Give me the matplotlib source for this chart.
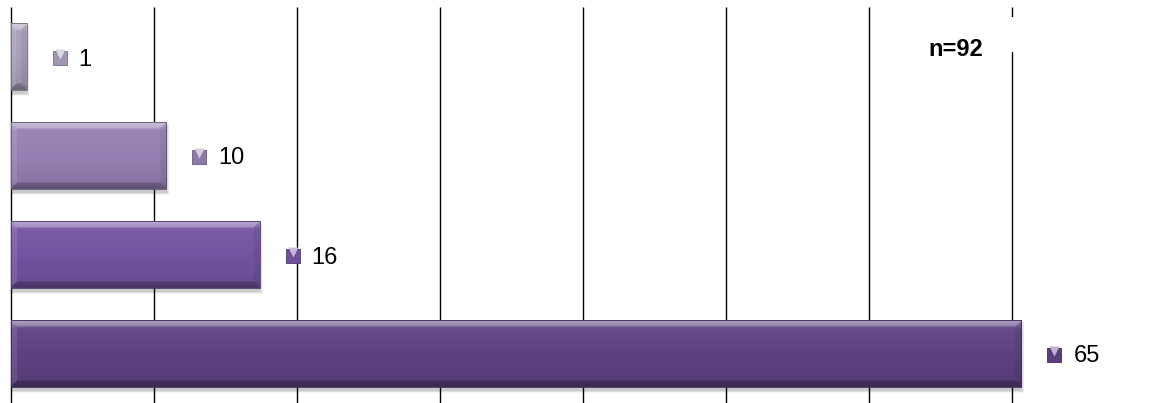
import numpy as np
import matplotlib
matplotlib.use("Agg")
import matplotlib.pyplot as plt
from matplotlib.patches import Rectangle, Polygon
from matplotlib.colors import to_rgb
from matplotlib import transforms

# Survey responses per answer (top to bottom), total respondents
counts = [1, 10, 16, 65]
n_total = 92
bar_colors = ["#A99FBA", "#9580B3", "#7453A0", "#5D4282"]
x_ticks = [0, 10, 20, 30, 40, 50, 60, 70]

pct = [c / n_total * 100 for c in counts]

W, H, DPI = 1149, 403, 100
fig = plt.figure(figsize=(W / DPI, H / DPI), dpi=DPI)
ax = fig.add_axes([11 / W, 0, 1001 / W, 396 / H])
ax.set_xlim(x_ticks[0], x_ticks[-1])
ax.set_ylim(len(counts) - 0.5, -0.5)
ax.set_xticks([])
ax.set_yticks([])
for s in ax.spines.values():
    s.set_visible(False)

# vertical gridlines, including the ones on the axis edges
ax.vlines(x_ticks, len(counts) - 0.5, -0.5, colors="black", lw=1.0,
          zorder=0, clip_on=False)

# size of one screen pixel in data units
fig.canvas.draw()
bb = ax.get_window_extent()
px_x = (x_ticks[-1] - x_ticks[0]) / bb.width
px_y = len(counts) / bb.height


def shade(rgb, f):
    rgb = np.array(rgb)
    if f >= 0:
        return tuple(rgb + (1 - rgb) * f)
    return tuple(rgb * (1 + f))


bar_h = 0.667
for i, (v, col) in enumerate(zip(pct, bar_colors)):
    rgb = to_rgb(col)
    x0, x1 = 0.0, v
    yt, yb = i - bar_h / 2, i + bar_h / 2

    # soft drop shadow
    for k in range(5):
        ax.add_patch(Rectangle((x0, yt + (3 - k * 0.4) * px_y),
                               (x1 - x0) + (0.5 + k * 0.6) * px_x, bar_h + (1 + k) * px_y,
                               facecolor="black", edgecolor="none", alpha=0.045,
                               zorder=2, clip_on=False))

    # body with vertical gradient
    body = Rectangle((x0, yt), x1 - x0, bar_h, facecolor=rgb, edgecolor="none",
                     zorder=3, clip_on=False)
    ax.add_patch(body)
    t = np.linspace(0, 1, 64)
    f = np.interp(t, [0, 0.05, 0.12, 0.5, 0.9, 1.0], [0.35, 0.25, 0.05, 0.0, -0.08, -0.25])
    grad = np.array([shade(rgb, fv) for fv in f])[:, None, :]
    im = ax.imshow(grad, extent=(x0, x1, yb, yt), aspect="auto", zorder=3.1,
                   interpolation="bilinear", clip_on=False)
    im.set_clip_path(body)
    ax.set_xlim(x_ticks[0], x_ticks[-1])
    ax.set_ylim(len(counts) - 0.5, -0.5)

    # bevelled edges
    bx, by = 6 * px_x, 6 * px_y
    bx = min(bx, (x1 - x0) / 3)
    bevels = [
        ([(x0, yt), (x1, yt), (x1 - bx, yt + by), (x0 + bx, yt + by)], "white", 0.22),
        ([(x0, yt), (x0 + bx, yt + by), (x0 + bx, yb - by), (x0, yb)], "white", 0.10),
        ([(x1, yt), (x1 - bx, yt + by), (x1 - bx, yb - by), (x1, yb)], "black", 0.06),
        ([(x0, yb), (x0 + bx, yb - by), (x1 - bx, yb - by), (x1, yb)], "black", 0.18),
    ]
    for pts, c, a in bevels:
        ax.add_patch(Polygon(pts, closed=True, facecolor=c, edgecolor="none",
                             alpha=a, zorder=3.2, clip_on=False))
    ax.add_patch(Rectangle((x0, yt), x1 - x0, bar_h, facecolor="none",
                           edgecolor=shade(rgb, -0.35), lw=0.6, zorder=3.3, clip_on=False))

    # value label with a small key square
    key_tr = transforms.offset_copy(ax.transData, fig=fig, x=33, y=-1, units="dots")
    ax.plot([v], [i], marker="s", ms=10.5, color=shade(rgb, -0.05),
            mec=shade(rgb, -0.3), mew=0.6, transform=key_tr, zorder=4, clip_on=False)
    tri_tr = transforms.offset_copy(ax.transData, fig=fig, x=33, y=3, units="dots")
    ax.plot([v], [i], marker="v", ms=6.5, color=shade(rgb, 0.6), mec="none",
            transform=tri_tr, zorder=4.1, clip_on=False)
    ax.annotate(f"{counts[i]}", xy=(v, i), xytext=(52, -3), textcoords="offset pixels",
                ha="left", va="center", fontsize=17, family="Liberation Sans",
                zorder=5, annotation_clip=False)

# gap in the last gridline behind the sample size note
fig.patches.append(Rectangle((1004 / W, 1 - 52 / H), 16 / W, 35 / H,
                             transform=fig.transFigure, facecolor="white",
                             edgecolor="none", zorder=10))
fig.text(983 / W, 1 - 49 / H, f"n={n_total}", ha="right", va="center",
         fontsize=17, fontweight="bold", family="Liberation Sans", zorder=11)

fig.savefig("out.png", dpi=DPI)
